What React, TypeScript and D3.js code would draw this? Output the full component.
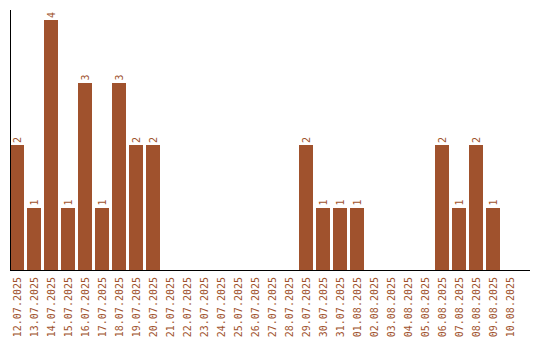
import React from "react";
import * as d3 from "d3";

const dates = [
  "12.07.2025","13.07.2025","14.07.2025","15.07.2025","16.07.2025","17.07.2025","18.07.2025","19.07.2025","20.07.2025","21.07.2025",
  "22.07.2025","23.07.2025","24.07.2025","25.07.2025","26.07.2025","27.07.2025","28.07.2025","29.07.2025","30.07.2025","31.07.2025",
  "01.08.2025","02.08.2025","03.08.2025","04.08.2025","05.08.2025","06.08.2025","07.08.2025","08.08.2025","09.08.2025","10.08.2025",
];
const counts = [2,1,4,1,3,1,3,2,2,0, 0,0,0,0,0,0,0,2,1,1, 1,0,0,0,0,2,1,2,1,0];

const W = 540, H = 340;
const COLOR = "#A0522D";
const FONT = "'DejaVu Sans Mono', monospace";

export default function App() {
  const x = d3.scaleBand<string>().domain(dates).range([10, 517]).paddingInner(3 / 17).paddingOuter(0);
  const y = d3.scaleLinear().domain([0, 4]).range([270, 20]);
  return (
    <svg width={W} height={H} style={{ position: "absolute", left: 0, top: 0 }}>
      <rect width={W} height={H} fill="#fff" />
      {dates.map((d, i) => {
        const v = counts[i];
        const bx = x(d)!;
        const cx = bx + x.bandwidth() / 2;
        return (
          <g key={d}>
            {v > 0 && (
              <rect x={bx} y={y(v)} width={x.bandwidth()} height={y(0) - y(v)} fill={COLOR} shapeRendering="crispEdges" />
            )}
            {v > 0 && (
              <text
                transform={`translate(${cx},${y(v) - 2}) rotate(-90)`}
                dy="0.35em"
                textAnchor="start"
                fontSize={10}
                fontFamily={FONT}
                fill={COLOR}
              >
                {v}
              </text>
            )}
            <text
              transform={`translate(${cx},277) rotate(-90)`}
              dy="0.35em"
              textAnchor="end"
              fontSize={10}
              fontFamily={FONT}
              fill={COLOR}
            >
              {d}
            </text>
          </g>
        );
      })}
      <line x1={10.5} y1={10} x2={10.5} y2={270} stroke="#000" strokeWidth={1} shapeRendering="crispEdges" />
      <line x1={10} y1={270.5} x2={530} y2={270.5} stroke="#000" strokeWidth={1} shapeRendering="crispEdges" />
    </svg>
  );
}
